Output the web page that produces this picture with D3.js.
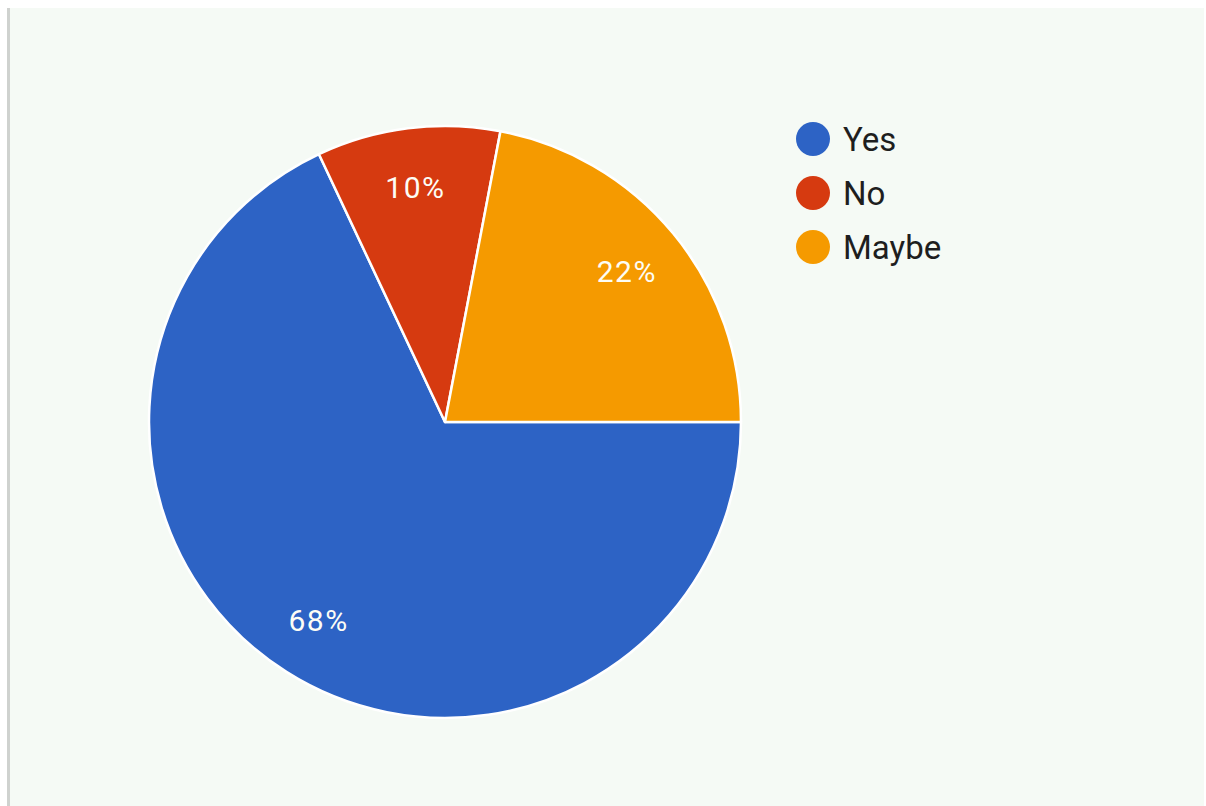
<!DOCTYPE html>
<html><head><meta charset="utf-8">
<script src="https://cdn.jsdelivr.net/npm/d3@7"></script>
<style>html,body{margin:0;padding:0;background:#fff;}svg{display:block;}</style>
</head><body>
<svg id="chart" width="1206" height="806"></svg>
<script>
const categories = ["Yes", "No", "Maybe"];
const values = [68, 10, 22];
const colors = ["#2d63c5", "#d63a10", "#f59a00"];

const svg = d3.select("#chart");
svg.append("rect").attr("x", 10).attr("y", 8).attr("width", 1194).attr("height", 798).attr("fill", "#f5faf5");
svg.append("rect").attr("x", 7).attr("y", 8).attr("width", 3).attr("height", 798).attr("fill", "#cfd2cf");

const cx = 445, cy = 422, R = 296;
const g = svg.append("g").attr("transform", `translate(${cx},${cy})`);
const pie = d3.pie().sort(null).value(d => d)
  .startAngle(Math.PI / 2).endAngle(Math.PI / 2 + 2 * Math.PI);
const arcs = pie(values);
const arc = d3.arc().innerRadius(0).outerRadius(R);
const color = d3.scaleOrdinal().domain(categories).range(colors);

g.selectAll("path").data(arcs).join("path")
  .attr("d", arc)
  .attr("fill", (d, i) => color(categories[i]))
  .attr("stroke", "#ffffff").attr("stroke-width", 2.5).attr("stroke-linejoin", "round");

const labelArc = d3.arc().innerRadius(236).outerRadius(236);
const total = d3.sum(values);
g.selectAll("text.lbl").data(arcs).join("text")
  .attr("class", "lbl")
  .attr("transform", d => `translate(${labelArc.centroid(d)})`)
  .attr("text-anchor", "middle").attr("dy", "0.34em")
  .attr("letter-spacing", 1.5)
  .attr("fill", "#fdfdf5").attr("font-family", "Roboto, sans-serif").attr("font-size", 30)
  .text(d => Math.round(d.data / total * 100) + "%");

const legend = svg.append("g").attr("transform", "translate(813,139)");
const items = legend.selectAll("g").data(categories).join("g")
  .attr("transform", (d, i) => `translate(0,${i * 54})`);
items.append("circle").attr("r", 17).attr("fill", d => color(d));
items.append("text").attr("x", 30).attr("dy", "0.36em")
  .attr("font-family", "Roboto, sans-serif").attr("font-size", 33).attr("fill", "#1e1e1e")
  .text(d => d);
</script>
</body></html>
